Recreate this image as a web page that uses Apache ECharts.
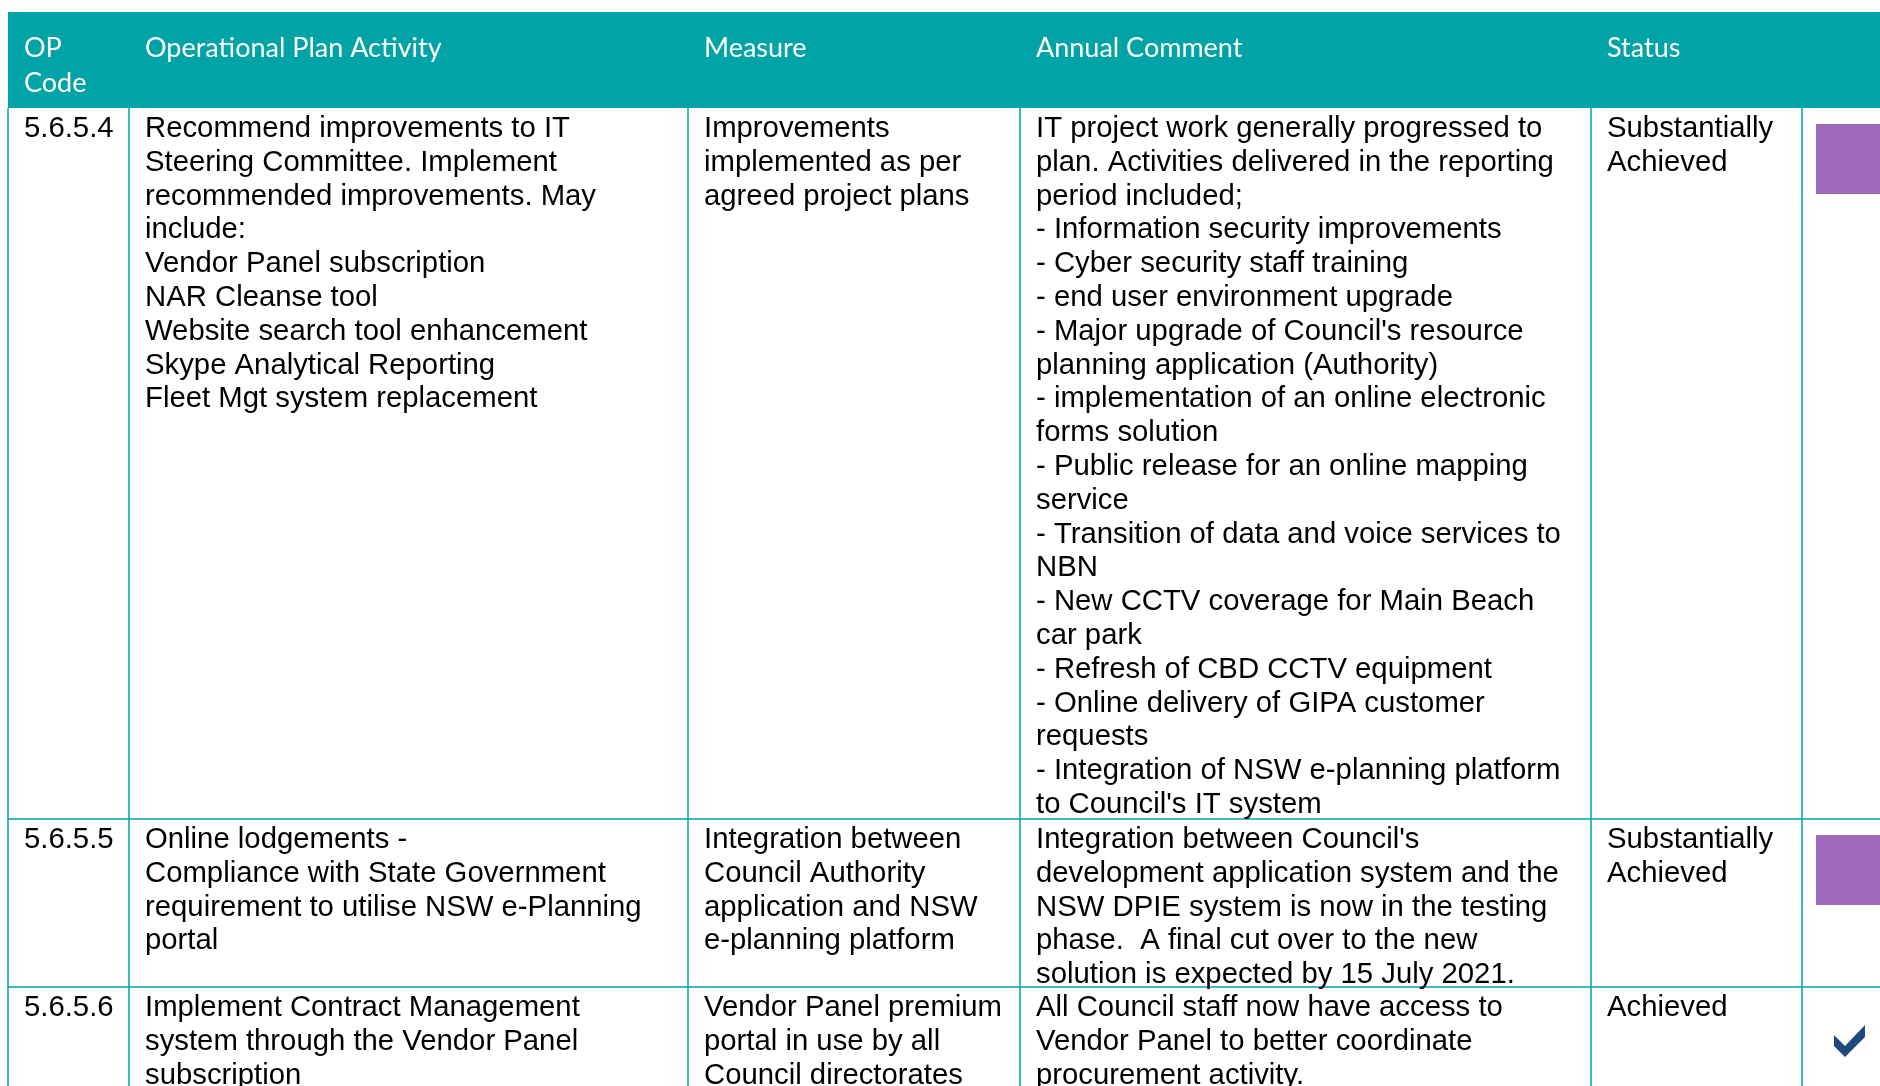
<!DOCTYPE html>
<html>
<head>
<meta charset="utf-8">
<script src="https://cdn.jsdelivr.net/npm/echarts@6/dist/echarts.min.js"></script>
<style>
  html, body { margin: 0; padding: 0; background: #ffffff; }
  #chart { width: 1880px; height: 1086px; }
</style>
</head>
<body>
<div id="chart"></div>
<script>
// ---- table content ----
const headers = ['OP\nCode', 'Operational Plan Activity', 'Measure', 'Annual Comment', 'Status'];
const opCodes = ['5.6.5.4', '5.6.5.5', '5.6.5.6'];
const activities = [
  'Recommend improvements to IT\nSteering Committee. Implement\nrecommended improvements. May\ninclude:\nVendor Panel subscription\nNAR Cleanse tool\nWebsite search tool enhancement\nSkype Analytical Reporting\nFleet Mgt system replacement',
  'Online lodgements -\nCompliance with State Government\nrequirement to utilise NSW e-Planning\nportal',
  'Implement Contract Management\nsystem through the Vendor Panel\nsubscription'
];
const measures = [
  'Improvements\nimplemented as per\nagreed project plans',
  'Integration between\nCouncil Authority\napplication and NSW\ne-planning platform',
  'Vendor Panel premium\nportal in use by all\nCouncil directorates'
];
const comments = [
  "IT project work generally progressed to\nplan. Activities delivered in the reporting\nperiod included;\n- Information security improvements\n- Cyber security staff training\n- end user environment upgrade\n- Major upgrade of Council's resource\nplanning application (Authority)\n- implementation of an online electronic\nforms solution\n- Public release for an online mapping\nservice\n- Transition of data and voice services to\nNBN\n- New CCTV coverage for Main Beach\ncar park\n- Refresh of CBD CCTV equipment\n- Online delivery of GIPA customer\nrequests\n- Integration of NSW e-planning platform\nto Council's IT system",
  "Integration between Council's\ndevelopment application system and the\nNSW DPIE system is now in the testing\nphase.  A final cut over to the new\nsolution is expected by 15 July 2021.",
  "All Council staff now have access to\nVendor Panel to better coordinate\nprocurement activity."
];
const statuses = ['Substantially\nAchieved', 'Substantially\nAchieved', 'Achieved'];
const statusIcons = ['square', 'square', 'tick'];

// ---- layout / style (not data) ----
const L = {
  colX: [8, 129, 688, 1020, 1591, 1802],
  right: 1880,
  headTop: 12,
  headBottom: 108,
  rowTop: [108, 819, 987],
  bottom: 1086,
  padX: 16,
  headFirstLineCenter: 48,
  bodyFirstLineOffset: 21,
  bodyLineH: 33.8,
  headLineH: 35
};
const C = {
  teal: '#00A4A7',
  purple: '#9D69B8',
  tick: '#1F497D',
  text: '#000000'
};

const g = [];
// header band
g.push({ type: 'rect', shape: { x: L.colX[0], y: L.headTop, width: L.right - L.colX[0], height: L.headBottom - L.headTop }, style: { fill: C.teal } });
headers.forEach((h, i) => {
  g.push({
    type: 'text', x: L.colX[i] + L.padX, y: L.headFirstLineCenter - L.headLineH / 2,
    style: { text: h, fill: '#ffffff', fontFamily: 'Lato', fontSize: 27, lineHeight: L.headLineH, verticalAlign: 'top', align: 'left' }
  });
});

// grid lines
L.colX.forEach(x => {
  g.push({ type: 'line', shape: { x1: x, y1: L.headBottom, x2: x, y2: L.bottom }, style: { stroke: C.teal, lineWidth: 1.5 } });
});
L.rowTop.slice(1).forEach(y => {
  g.push({ type: 'line', shape: { x1: L.colX[0], y1: y, x2: L.right, y2: y }, style: { stroke: C.teal, lineWidth: 1.5 } });
});

// body text
const cols = [opCodes, activities, measures, comments, statuses];
cols.forEach((col, ci) => {
  col.forEach((txt, ri) => {
    g.push({
      type: 'text', x: L.colX[ci] + L.padX, y: L.rowTop[ri] + L.bodyFirstLineOffset - L.bodyLineH / 2,
      style: { text: txt, fill: C.text, fontFamily: 'Liberation Sans', fontSize: 29.3, lineHeight: L.bodyLineH, verticalAlign: 'top', align: 'left' }
    });
  });
});

// status icons
statusIcons.forEach((ic, ri) => {
  const top = L.rowTop[ri];
  const x0 = L.colX[5];
  if (ic === 'square') {
    g.push({ type: 'rect', shape: { x: x0 + 14, y: top + 16, width: 90, height: 70 }, style: { fill: C.purple } });
  } else {
    const bx = x0 + 32, by = top + 38;
    g.push({
      type: 'polygon',
      shape: { points: [[bx, by + 10], [bx + 11, by + 21], [bx + 31, by], [bx + 31, by + 12], [bx + 11, by + 32], [bx, by + 21]] },
      style: { fill: C.tick }
    });
  }
});

const chart = echarts.init(document.getElementById('chart'), null, { renderer: 'canvas' });
chart.setOption({ backgroundColor: '#ffffff', animation: false, graphic: { elements: g } });
</script>
</body>
</html>
